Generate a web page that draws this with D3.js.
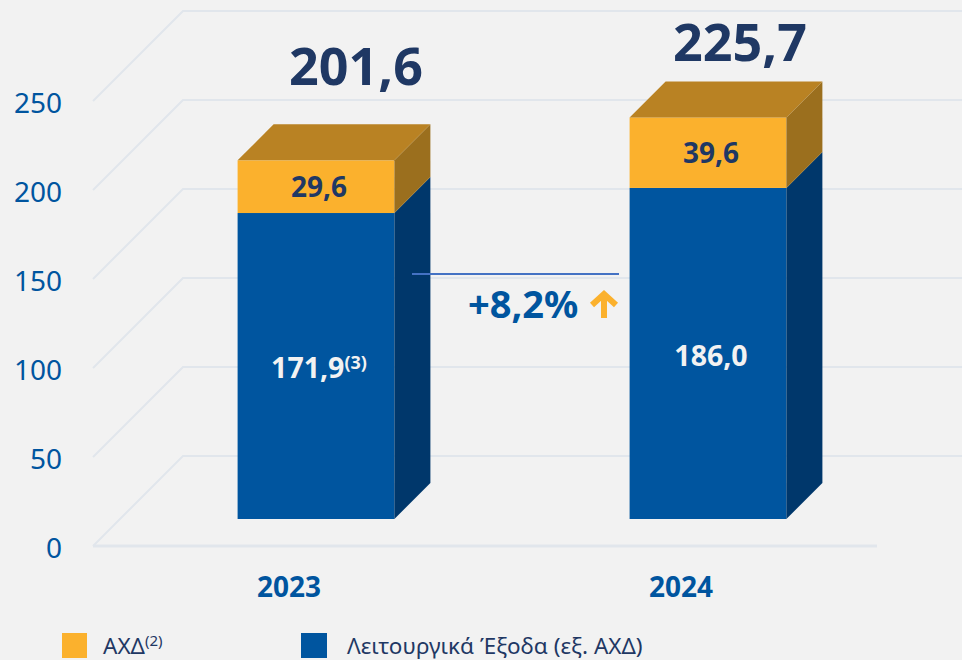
<!DOCTYPE html>
<html lang="el">
<head>
    <meta charset="UTF-8">
    <title></title>
    <style>
        html, body { margin: 0; padding: 0; background: #f2f2f2; }
        svg { display: block; }
        text { font-family: "Noto Sans", "Open Sans", sans-serif; }
    </style>
</head>
<body>
<script src="https://cdnjs.cloudflare.com/ajax/libs/d3/7.8.5/d3.min.js"></script>
<script>
    var years = ["2023", "2024"];
    var opex = [171.9, 186.0];
    var axd = [29.6, 39.6];
    var totalLabels = ["201,6", "225,7"];
    var opexLabels = ["171,9", "186,0"];
    var opexNotes = ["(3)", ""];
    var axdLabels = ["29,6", "39,6"];
    var yTicks = [0, 50, 100, 150, 200, 250];

    var width = 962, height = 660;
    var wallDepth = 90;    // how far the grid runs back
    var barDepth = 36;     // how deep the bars are
    var barInset = 27;     // bars stand this far back from the floor edge

    var svg = d3.select("body").append("svg")
            .attr("width", width)
            .attr("height", height);

    svg.append("rect").attr("width", width).attr("height", height).attr("fill", "#f2f2f2");

    var x = d3.scaleBand().domain(years).range([93, 877]);
    var y = d3.scaleLinear().domain([0, 250]).range([546, 101]);
    var barWidth = x.bandwidth() * 0.4;

    //Grid: diagonal on the left, then the back wall, then the floor front edge
    var gridColor = "#e1e6ec";
    var grid = svg.append("g").attr("fill", "none").attr("stroke", gridColor).attr("stroke-width", 2);
    yTicks.forEach(function(t) {
        grid.append("path").attr("d", d3.line()([
            [x.range()[0], y(t)],
            [x.range()[0] + wallDepth, y(t) - wallDepth],
            [width, y(t) - wallDepth]
        ]));
    });
    grid.append("line")
            .attr("x1", x.range()[0]).attr("x2", x.range()[1])
            .attr("y1", y(0)).attr("y2", y(0))
            .attr("stroke-width", 3);

    //Y axis
    var axis = svg.append("g")
            .attr("transform", "translate(62,0)")
            .call(d3.axisLeft(y).tickValues(yTicks).tickSize(0).tickPadding(0));
    axis.select(".domain").remove();
    axis.selectAll("text")
            .attr("dy", "0.4em")
            .attr("fill", "#00559f")
            .style("font-size", "28px");

    //Stacked 3D bars
    var rows = years.map(function(d, i) { return { year: d, opex: opex[i], axd: axd[i] }; });
    var stack = d3.stack().keys(["opex", "axd"])(rows);
    var faces = {
        opex: { front: "#00559f", side: "#00376b", top: "#00437e" },
        axd: { front: "#fbb12d", side: "#9b6f1e", top: "#b98223" }
    };
    var poly = d3.line();

    stack.forEach(function(layer) {
        var c = faces[layer.key];
        layer.forEach(function(d) {
            var x0 = x(d.data.year) + x.bandwidth() / 2 + barInset - barWidth / 2;
            var x1 = x0 + barWidth;
            var y0 = y(d[0]) - barInset;
            var y1 = y(d[1]) - barInset;
            svg.append("rect")
                    .attr("x", x0).attr("y", y1)
                    .attr("width", barWidth).attr("height", y0 - y1)
                    .attr("fill", c.front);
            svg.append("path")
                    .attr("fill", c.side)
                    .attr("d", poly([[x1, y0], [x1 + barDepth, y0 - barDepth], [x1 + barDepth, y1 - barDepth], [x1, y1]]) + "Z");
            if (layer.key === "axd") {
                svg.append("path")
                        .attr("fill", c.top)
                        .attr("d", poly([[x0, y1], [x0 + barDepth, y1 - barDepth], [x1 + barDepth, y1 - barDepth], [x1, y1]]) + "Z");
            }
        });
    });

    //Labels inside the bars
    var barCenter = function(yr) { return x(yr) + x.bandwidth() / 2 + barInset; };
    var navy = "#1f3864";

    years.forEach(function(yr, i) {
        svg.append("text")
                .attr("x", barCenter(yr) + 3)
                .attr("y", y(opex[i] + axd[i] / 2) - barInset + 10)
                .attr("text-anchor", "middle")
                .attr("fill", navy)
                .style("font-size", "28px").style("font-weight", 700)
                .text(axdLabels[i]);

        var t = svg.append("text")
                .attr("x", barCenter(yr) + 3)
                .attr("y", i === 0 ? 378 : 366)
                .attr("text-anchor", "middle")
                .attr("fill", "#f2f2f2")
                .style("font-size", "28.5px").style("font-weight", 700)
                .text(opexLabels[i]);
        if (opexNotes[i]) {
            t.append("tspan")
                    .attr("dy", -9)
                    .style("font-size", "18px")
                    .text(opexNotes[i]);
        }

        //Totals above the bars
        svg.append("text")
                .attr("x", i === 0 ? 356 : 740)
                .attr("y", i === 0 ? 85 : 61)
                .attr("text-anchor", "middle")
                .attr("fill", navy)
                .style("font-size", "52px").style("font-weight", 700)
                .text(totalLabels[i]);

        //Category labels
        svg.append("text")
                .attr("x", x(yr) + x.bandwidth() / 2)
                .attr("y", 597)
                .attr("text-anchor", "middle")
                .attr("fill", "#00559f")
                .style("font-size", "28px").style("font-weight", 700)
                .text(yr);
    });

    //Growth note between the bars
    svg.append("line")
            .attr("x1", 412).attr("x2", 619)
            .attr("y1", 274).attr("y2", 274)
            .attr("stroke", "#4472c4").attr("stroke-width", 2);
    svg.append("text")
            .attr("x", 468).attr("y", 318)
            .attr("fill", "#00559f")
            .style("font-size", "38px").style("font-weight", 700)
            .text("+8,2%");
    svg.append("path")
            .attr("d", "M604 318V294M592 305L604 294L616 305")
            .attr("fill", "none")
            .attr("stroke", "#fbb12d")
            .attr("stroke-width", 6);

    //Legend
    var legend = svg.append("g").attr("fill", navy).style("font-size", "22.5px");
    legend.append("rect").attr("x", 62).attr("y", 633).attr("width", 25).attr("height", 25).attr("fill", "#fbb12d");
    var l1 = legend.append("text").attr("x", 103).attr("y", 654).text("ΑΧΔ");
    l1.append("tspan").attr("dy", -8).style("font-size", "15px").text("(2)");
    legend.append("rect").attr("x", 301).attr("y", 633).attr("width", 26).attr("height", 25).attr("fill", "#00559f");
    legend.append("text").attr("x", 347).attr("y", 654).text("Λειτουργικά Έξοδα (εξ. ΑΧΔ)");
</script>
</body>
</html>
